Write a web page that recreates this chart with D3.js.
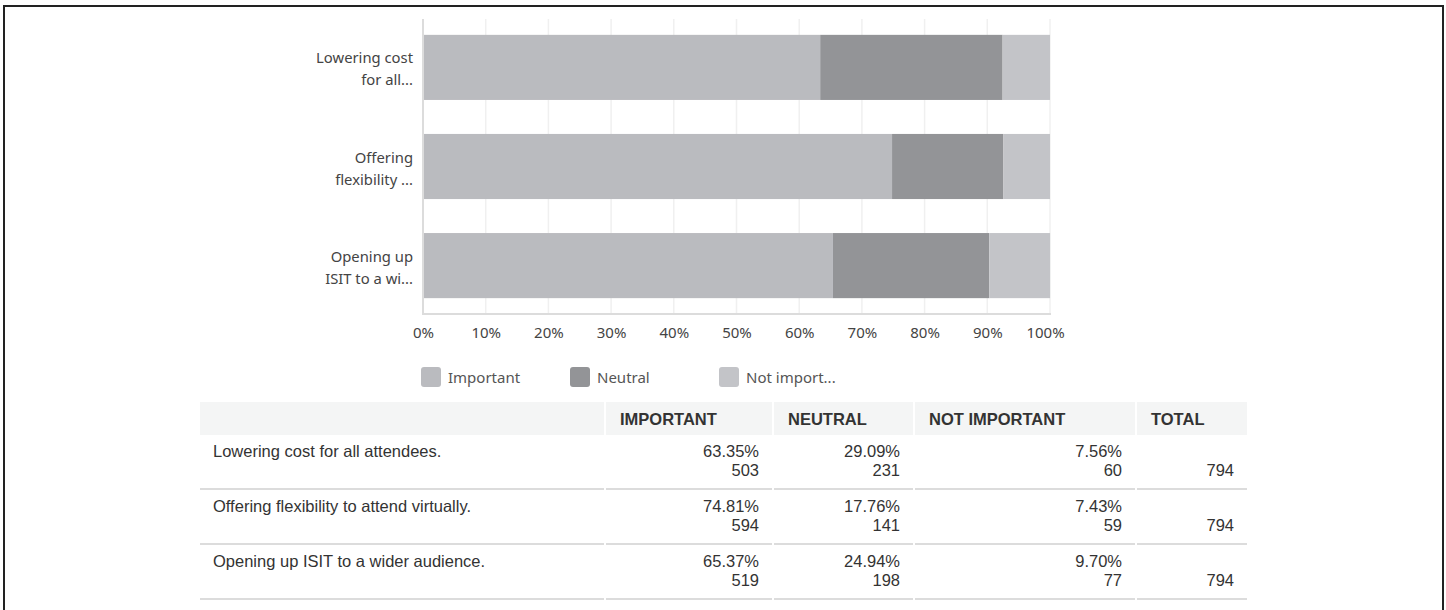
<!DOCTYPE html>
<html>
<head>
<meta charset="utf-8">
<script src="https://cdn.jsdelivr.net/npm/d3@7"></script>
<style>
  html, body { margin: 0; padding: 0; background: #fff; }
  svg { display: block; }
</style>
</head>
<body>
<svg id="chart" width="1446" height="610"></svg>
<script>
// Survey question rows (short axis labels and full table labels)
const categories = ["Lowering cost for all attendees.", "Offering flexibility to attend virtually.", "Opening up ISIT to a wider audience."];
const axisLabels = [["Lowering cost", "for all..."], ["Offering", "flexibility ..."], ["Opening up", "ISIT to a wi..."]];
const seriesNames = ["Important", "Neutral", "Not important"];
const legendLabels = ["Important", "Neutral", "Not import..."];
const headerLabels = ["", "IMPORTANT", "NEUTRAL", "NOT IMPORTANT", "TOTAL"];

// Percentages per answer, per row
const importantPct = [63.35, 74.81, 65.37];
const neutralPct = [29.09, 17.76, 24.94];
const notImportantPct = [7.56, 7.43, 9.70];
// Response counts per answer, per row
const importantCount = [503, 594, 519];
const neutralCount = [231, 141, 198];
const notImportantCount = [60, 59, 77];
const totals = [794, 794, 794];

const xTicks = [0, 10, 20, 30, 40, 50, 60, 70, 80, 90, 100];
const colors = ["#babbbf", "#939497", "#c3c4c8"];

const svg = d3.select("#chart");
const chartFont = "'Noto Sans', sans-serif";
const tableFont = "'Liberation Sans', Arial, sans-serif";

// Outer frame
svg.append("rect")
  .attr("x", 4).attr("y", 6).attr("width", 1439).attr("height", 640)
  .attr("fill", "none").attr("stroke", "#222").attr("stroke-width", 2);

// ---- Stacked bar chart ----
const x = d3.scaleLinear().domain([0, 100]).range([423, 1050]);
const y = d3.scaleBand().domain(categories).range([18, 315]).paddingInner(0.343).paddingOuter(0.17);

const g = svg.append("g");

// Vertical gridlines
g.selectAll("line.grid").data(xTicks.slice(1)).join("line")
  .attr("class", "grid")
  .attr("x1", d => x(d)).attr("x2", d => x(d))
  .attr("y1", 19).attr("y2", 313)
  .attr("stroke", "#f0f0f0").attr("stroke-width", 1.5);

// Stack the series
const rows = categories.map((c, i) => ({
  cat: c,
  "Important": importantPct[i],
  "Neutral": neutralPct[i],
  "Not important": notImportantPct[i]
}));
const stacked = d3.stack().keys(seriesNames)(rows);

g.selectAll("g.series").data(stacked).join("g")
  .attr("class", "series")
  .attr("fill", (d, i) => colors[i])
  .selectAll("rect").data(d => d).join("rect")
  .attr("x", d => x(d[0]))
  .attr("width", d => x(d[1]) - x(d[0]))
  .attr("y", d => y(d.data.cat))
  .attr("height", y.bandwidth());

// Axis lines
g.append("line")
  .attr("x1", x(0)).attr("x2", x(0)).attr("y1", 19).attr("y2", 314)
  .attr("stroke", "#dcdcdc").attr("stroke-width", 2);
g.append("line")
  .attr("x1", x(0) - 1).attr("x2", x(100) + 1).attr("y1", 314).attr("y2", 314)
  .attr("stroke", "#dcdcdc").attr("stroke-width", 2);

// X axis tick labels
const xAxis = d3.axisBottom(x).tickValues(xTicks).tickSize(0).tickPadding(0).tickFormat(d => d + "%");
const xg = g.append("g").attr("transform", "translate(0,327)").call(xAxis);
xg.select(".domain").remove();
xg.selectAll("text")
  .attr("font-family", chartFont).attr("font-size", 15).attr("fill", "#444")
  .attr("dy", "0.71em")
  .attr("dx", d => d === 100 ? -5 : 0);

// Y axis category labels (two lines each)
const yLab = g.append("g");
categories.forEach((c, i) => {
  const cy = y(c) + y.bandwidth() / 2;
  const t = yLab.append("text")
    .attr("text-anchor", "end")
    .attr("font-family", chartFont).attr("font-size", 14.8).attr("fill", "#444");
  axisLabels[i].forEach((line, j) => {
    t.append("tspan").attr("x", 413).attr("y", cy - 4 + j * 22).text(line);
  });
});

// Legend
const legend = svg.append("g");
legendLabels.forEach((name, i) => {
  const lx = 421 + i * 149;
  legend.append("rect")
    .attr("x", lx).attr("y", 367).attr("width", 20).attr("height", 20)
    .attr("rx", 3).attr("fill", colors[i]);
  legend.append("text")
    .attr("x", lx + 27).attr("y", 383)
    .attr("font-family", chartFont).attr("font-size", 15).attr("fill", "#555")
    .text(name);
});

// ---- Data table ----
const colEdges = [200, 604, 772, 913, 1135, 1247]; // column boundaries
const gap = 2;
const headerTop = 402, headerBottom = 435;
const rowTops = [436, 491, 546];
const rowHeight = 53;
const fs = 16.5;
const tg = svg.append("g").attr("font-family", tableFont);

// Header background cells
headerLabels.forEach((h, k) => {
  const x0 = colEdges[k] + (k === 0 ? 0 : gap);
  const x1 = colEdges[k + 1];
  tg.append("rect")
    .attr("x", x0).attr("y", headerTop).attr("width", x1 - x0).attr("height", headerBottom - headerTop)
    .attr("fill", "#f4f5f5");
  if (h) {
    tg.append("text")
      .attr("x", x0 + 14).attr("y", 425)
      .attr("font-size", fs).attr("font-weight", "bold").attr("fill", "#333")
      .text(h);
  }
});

const pctCols = [importantPct, neutralPct, notImportantPct];
const cntCols = [importantCount, neutralCount, notImportantCount];

categories.forEach((c, i) => {
  const top = rowTops[i];
  // Row label
  tg.append("text")
    .attr("x", 213).attr("y", top + 21)
    .attr("font-size", fs).attr("fill", "#333")
    .text(c);
  // Percent and count cells
  pctCols.forEach((col, k) => {
    const right = colEdges[k + 2] - 13;
    tg.append("text")
      .attr("x", right).attr("y", top + 21).attr("text-anchor", "end")
      .attr("font-size", fs).attr("fill", "#333")
      .text(d3.format(".2f")(col[i]) + "%");
    tg.append("text")
      .attr("x", right).attr("y", top + 40).attr("text-anchor", "end")
      .attr("font-size", fs).attr("fill", "#333")
      .text(cntCols[k][i]);
  });
  // Total
  tg.append("text")
    .attr("x", colEdges[5] - 13).attr("y", top + 40).attr("text-anchor", "end")
    .attr("font-size", fs).attr("fill", "#333")
    .text(totals[i]);
  // Row separators (one per cell, with small gaps between columns)
  for (let k = 0; k < 5; k++) {
    const x0 = colEdges[k] + (k === 0 ? 0 : gap);
    const x1 = colEdges[k + 1];
    tg.append("rect")
      .attr("x", x0).attr("y", top + rowHeight - 1).attr("width", x1 - x0).attr("height", 2)
      .attr("fill", "#dcdcdc");
  }
});
</script>
</body>
</html>
